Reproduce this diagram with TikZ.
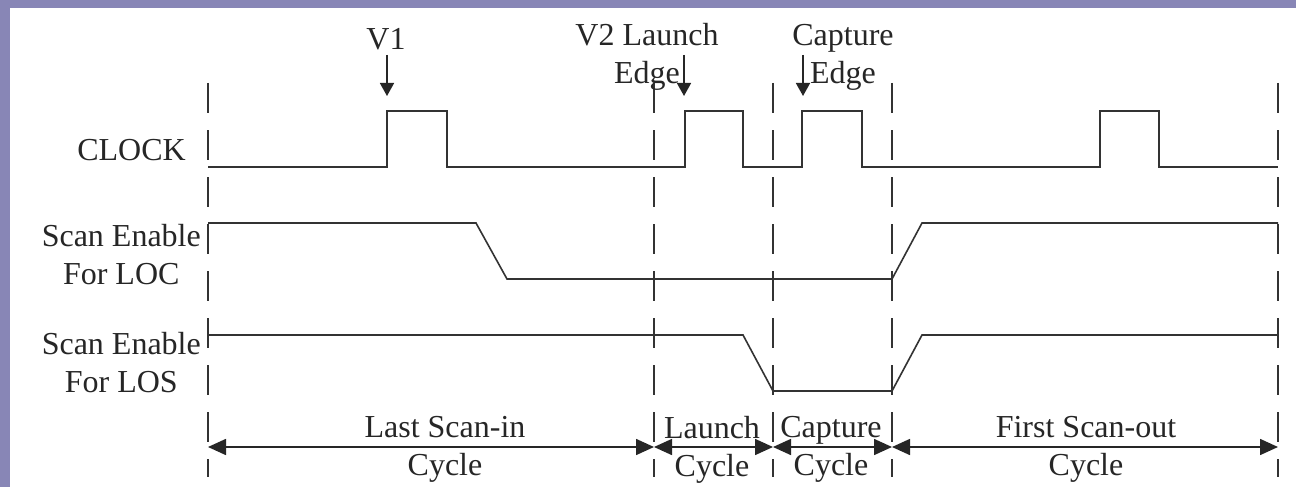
\documentclass[tikz,border=0pt]{standalone}
\usepackage{fontspec}
\setmainfont{Liberation Serif}
\usetikzlibrary{arrows.meta,positioning}

\definecolor{slidebg}{RGB}{136,134,182}

\tikzset{
  wave/.style={line width=1.6pt, black!80},
  guide/.style={line width=1.6pt, black!80, dash pattern=on 30pt off 17pt},
  lbl/.style={font=\fontsize{32}{38}\selectfont, text=black!85, align=center, inner sep=0pt},
  edgearrow/.style={line width=1.6pt, black!85, -{Triangle[length=13pt,width=14pt]}},
  span/.style={line width=1.6pt, black!85, {Triangle[length=18pt,width=16pt]}-{Triangle[length=18pt,width=16pt]}}
}

\begin{document}
\begin{tikzpicture}[x=1pt,y=-1pt]
% Slide background
\fill[slidebg] (0,0) rectangle (1296,487);
\fill[white] (10,8) rectangle (1296,487);
\useasboundingbox (0,0) rectangle (1296,487);

% Cycle boundaries
\foreach \x/\n in {208/t0, 654/t1, 773/t2, 892/t3, 1278/t4} {
    \coordinate (\n) at (\x,447);
    \draw[guide] (\x,83) -- (\x,477);
}

% Signal names
\node[lbl, anchor=east] (clk) at (186,150) {CLOCK};
\node[lbl, anchor=east] (loc) at (201,255) {Scan Enable\\For LOC};
\node[lbl, anchor=east] (los) at (201,363) {Scan Enable\\For LOS};

% Waveforms
\draw[wave] (208,167) -- (387,167) -- (387,111) -- (447,111) -- (447,167)
    -- (685,167) -- (685,111) -- (743,111) -- (743,167)
    -- (802,167) -- (802,111) -- (862,111) -- (862,167)
    -- (1100,167) -- (1100,111) -- (1159,111) -- (1159,167) -- (1278,167);
\draw[wave] (208,223) -- (476,223) -- (507,279) -- (892,279) -- (922,223) -- (1278,223); % LOC
\draw[wave] (208,335) -- (743,335) -- (773,391) -- (892,391) -- (922,335) -- (1278,335); % LOS

% Edge labels and markers
\node[lbl] (v1) at (386,39) {V1};
\node[lbl] (v2) at (647,57) {V2 Launch\\Edge};
\node[lbl] (cap) at (843,57) {Capture\\Edge};
\foreach \x/\n in {387/m1, 684/m2, 803/m3} {
    \coordinate (\n) at (\x,96);
    \draw[edgearrow] (\x,55) -- (\n);
}

% Cycle spans
\draw[span] (t0) -- (t1);
\draw[span] (t1) -- (t2);
\draw[span] (t2) -- (t3);
\draw[span] (t3) -- (t4);
\node[lbl] (lastin) at (445,449) {Last Scan-in\\Cycle};
\node[lbl] (launch) at (712,450) {Launch\\Cycle};
\node[lbl] (capture) at (831,449) {Capture\\Cycle};
\node[lbl] (firstout) at (1086,449) {First Scan-out\\Cycle};

\end{tikzpicture}
\end{document}
